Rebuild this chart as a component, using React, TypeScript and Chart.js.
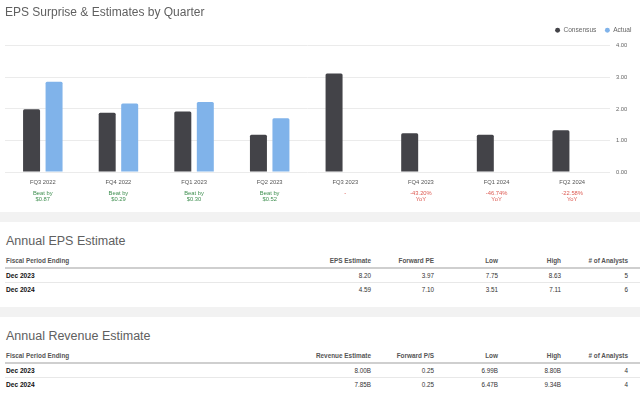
import React, { useEffect, useRef } from 'react';
import { Chart, registerables } from 'chart.js';

Chart.register(...registerables);

const FONT = '"Liberation Sans", Arial, Helvetica, sans-serif';

// ---- chart data ----
const quarters = ['FQ3 2022', 'FQ4 2022', 'FQ1 2023', 'FQ2 2023', 'FQ3 2023', 'FQ4 2023', 'FQ1 2024', 'FQ2 2024'];
const consensus = [1.99, 1.88, 1.92, 1.18, 3.12, 1.23, 1.18, 1.32];
const actual: (number | null)[] = [2.86, 2.17, 2.22, 1.70, null, null, null, null];
const surpriseLine1 = ['Beat by', 'Beat by', 'Beat by', 'Beat by', '-', '-43.20%', '-46.74%', '-22.58%'];
const surpriseLine2 = ['$0.87', '$0.29', '$0.30', '$0.52', '', 'YoY', 'YoY', 'YoY'];
const surpriseKind = ['beat', 'beat', 'beat', 'beat', 'yoy', 'yoy', 'yoy', 'yoy'];
const yTicks = [0, 1, 2, 3, 4];

// ---- table data ----
const epsHeaders = ['Fiscal Period Ending', 'EPS Estimate', 'Forward PE', 'Low', 'High', '# of Analysts'];
const epsRow2023 = ['Dec 2023', '8.20', '3.97', '7.75', '8.63', '5'];
const epsRow2024 = ['Dec 2024', '4.59', '7.10', '3.51', '7.11', '6'];
const revHeaders = ['Fiscal Period Ending', 'Revenue Estimate', 'Forward P/S', 'Low', 'High', '# of Analysts'];
const revRow2023 = ['Dec 2023', '8.00B', '0.25', '6.99B', '8.80B', '4'];
const revRow2024 = ['Dec 2024', '7.85B', '0.25', '6.47B', '9.34B', '4'];

const colRight = [269, 206, 142, 79, 12];

function Section({ title, headers, rows }: { title: string; headers: string[]; rows: string[][] }) {
  const rowTops = [48.7, 63];
  return (
    <div style={{ position: 'relative', height: 85, background: '#fff' }}>
      <div style={{ position: 'absolute', left: 6, top: 10.7, fontSize: 12.5, lineHeight: '16px', color: '#606060', whiteSpace: 'nowrap' }}>{title}</div>
      {headers.map((h, i) => (
        <div key={h} style={{
          position: 'absolute', top: 34, lineHeight: '10px', fontSize: 6.4, fontWeight: 'bold', color: '#555', whiteSpace: 'nowrap',
          ...(i === 0 ? { left: 6 } : { right: colRight[i - 1], textAlign: 'right' as const }),
        }}>{h}</div>
      ))}
      <div style={{ position: 'absolute', left: 5, right: 0, top: 45, height: 2, background: '#cfcfcf' }} />
      <div style={{ position: 'absolute', left: 5, right: 0, top: 60, height: 1, background: '#e8e8e8' }} />
      {rows.map((r, ri) => r.map((c, i) => (
        <div key={ri + '-' + i} style={{
          position: 'absolute', top: rowTops[ri], lineHeight: '10px', whiteSpace: 'nowrap',
          ...(i === 0
            ? { left: 6, fontSize: 6.6, fontWeight: 'bold', color: '#111' }
            : { right: colRight[i - 1], textAlign: 'right' as const, fontSize: 6.3, color: '#333' }),
        }}>{c}</div>
      )))}
    </div>
  );
}

export default function App() {
  const ref = useRef<HTMLCanvasElement>(null);

  useEffect(() => {
    document.body.style.margin = '0';
    const canvas = ref.current;
    if (!canvas) return;

    const subLabels = {
      id: 'subLabels',
      afterDraw(chart: any) {
        const ctx = chart.ctx;
        const xs = chart.scales.x;
        ctx.save();
        ctx.font = `5.8px ${FONT}`;
        ctx.textAlign = 'center';
        ctx.textBaseline = 'middle';
        quarters.forEach((_, i) => {
          const x = xs.getPixelForValue(i);
          ctx.fillStyle = surpriseKind[i] === 'beat' ? '#3f8f50' : '#dd5a52';
          ctx.fillText(surpriseLine1[i], x, 193.3);
          if (surpriseLine2[i]) ctx.fillText(surpriseLine2[i], x, 199);
        });
        ctx.restore();
      },
    };

    const legendPad = {
      id: 'legendPad',
      beforeLayout(chart: any) {
        const lg = chart.legend;
        if (lg && !lg._padded) {
          const fit = lg.fit.bind(lg);
          lg.fit = function () { fit(); this.height += 2.2; };
          lg._padded = true;
        }
      },
    };

    const chart = new Chart(canvas, {
      type: 'bar',
      data: {
        labels: quarters,
        datasets: [
          { label: 'Consensus', data: consensus, backgroundColor: '#434348', borderWidth: 0, borderRadius: 1.5, categoryPercentage: 0.595, barPercentage: 0.755 },
          { label: 'Actual', data: actual, backgroundColor: '#80b3ea', borderWidth: 0, borderRadius: 1.5, categoryPercentage: 0.595, barPercentage: 0.755 },
        ],
      },
      options: {
        animation: false,
        responsive: true,
        maintainAspectRatio: false,
        layout: { padding: { left: 5, right: 0, top: 0, bottom: 0 } },
        plugins: {
          title: {
            display: true, text: 'EPS Surprise & Estimates by Quarter', align: 'start', color: '#606060',
            font: { family: FONT, size: 12, weight: 'normal', lineHeight: 1 }, padding: { top: 6.5, bottom: 0 },
          },
          legend: {
            display: true, position: 'top', align: 'end',
            labels: { usePointStyle: true, pointStyle: 'circle', boxWidth: 5, boxHeight: 3.5, padding: 8.5, color: '#666', font: { family: FONT, size: 6.6 } },
          },
          tooltip: { enabled: false },
        },
        scales: {
          x: {
            grid: { display: false, drawTicks: false },
            border: { display: false },
            ticks: { color: '#555', font: { family: FONT, size: 5.8 }, padding: 7, maxRotation: 0, autoSkip: false },
            afterFit: (s: any) => { s.height = 40; },
          },
          y: {
            position: 'right', min: 0, max: 4,
            afterBuildTicks: (s: any) => { s.ticks = yTicks.map(v => ({ value: v })); },
            ticks: { color: '#666', font: { family: FONT, size: 5.8 }, padding: 6, callback: (v: any) => Number(v).toFixed(2) },
            grid: { color: '#ebebeb', drawTicks: false },
            border: { display: false },
            afterFit: (s: any) => { s.width = 30; },
          },
        },
      },
      plugins: [subLabels, legendPad],
    } as any);
    return () => chart.destroy();
  }, []);

  return (
    <div style={{ width: 640, fontFamily: FONT, background: '#fff' }}>
      <div style={{ position: 'relative', width: 640, height: 212 }}>
        <canvas ref={ref} />
      </div>
      <div style={{ height: 10, background: '#f2f2f2' }} />
      <Section title="Annual EPS Estimate" headers={epsHeaders} rows={[epsRow2023, epsRow2024]} />
      <div style={{ height: 10, background: '#f2f2f2' }} />
      <Section title="Annual Revenue Estimate" headers={revHeaders} rows={[revRow2023, revRow2024]} />
    </div>
  );
}
